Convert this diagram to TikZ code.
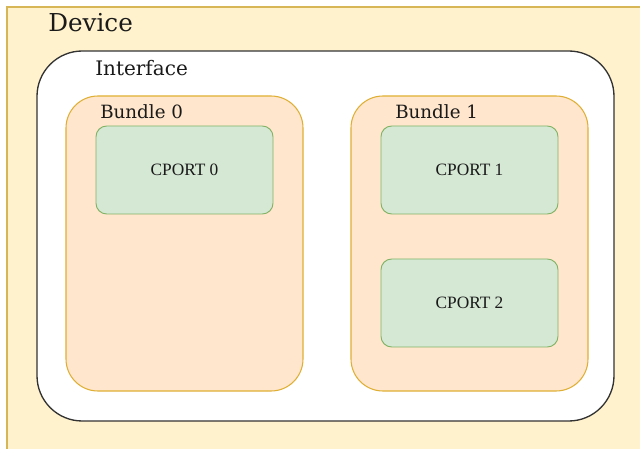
\documentclass[tikz,border=0pt]{standalone}
\usepackage{fontspec}
\setmainfont{DejaVu Serif}
\newfontfamily\cportfont{Liberation Serif}
\definecolor{devfill}{HTML}{FFF2CC}
\definecolor{devdraw}{HTML}{D6B656}
\definecolor{bunfill}{HTML}{FFE6CC}
\definecolor{bundraw}{HTML}{D79B00}
\definecolor{cpfill}{HTML}{D5E8D4}
\definecolor{cpdraw}{HTML}{82B366}
\definecolor{txt}{HTML}{1A1A1A}
\tikzset{
  devbox/.style={fill=devfill, draw=devdraw, line width=0.8pt},
  ifbox/.style={fill=white, draw=black!80, line width=1pt, rounded corners=34pt},
  bunbox/.style={fill=bunfill, draw=bundraw!80, line width=0.8pt, rounded corners=24pt},
  cpbox/.style={fill=cpfill, draw=cpdraw, line width=0.7pt, rounded corners=8pt},
  cptext/.style={font=\cportfont\fontsize{13}{15}\selectfont, text=txt},
  lbl/.style={anchor=base west, text=txt, inner sep=0pt},
}
\begin{document}
\begin{tikzpicture}[x=0.75pt, y=-0.75pt]
\useasboundingbox (0,0) rectangle (640,449);
\clip (0,0) rectangle (640,449);
\fill[white] (0,0) rectangle (640,449);
\draw[devbox] (7,7) rectangle (660,470);
\node[lbl, font=\fontsize{18.5}{22}\selectfont] (dev) at (48,32) {Device};
\draw[ifbox] (37,51) rectangle (614,421);
\node[lbl, font=\fontsize{15}{18}\selectfont] (ifc) at (95,76) {Interface};
\draw[bunbox] (66,96) rectangle (303,391);
\node[lbl, font=\fontsize{13.7}{16}\selectfont] (b0) at (100,118.5) {Bundle 0};
\draw[bunbox] (351,96) rectangle (588,391);
\node[lbl, font=\fontsize{13.7}{16}\selectfont] (b1) at (395,118.5) {Bundle 1};
\node[cpbox, minimum width=177*0.75pt, minimum height=88*0.75pt, cptext] (c0) at (184.5,170) {CPORT 0};
\node[cpbox, minimum width=177*0.75pt, minimum height=88*0.75pt, cptext] (c1) at (469.5,170) {CPORT 1};
\node[cpbox, minimum width=177*0.75pt, minimum height=88*0.75pt, cptext] (c2) at (469.5,303) {CPORT 2};
\end{tikzpicture}
\end{document}
